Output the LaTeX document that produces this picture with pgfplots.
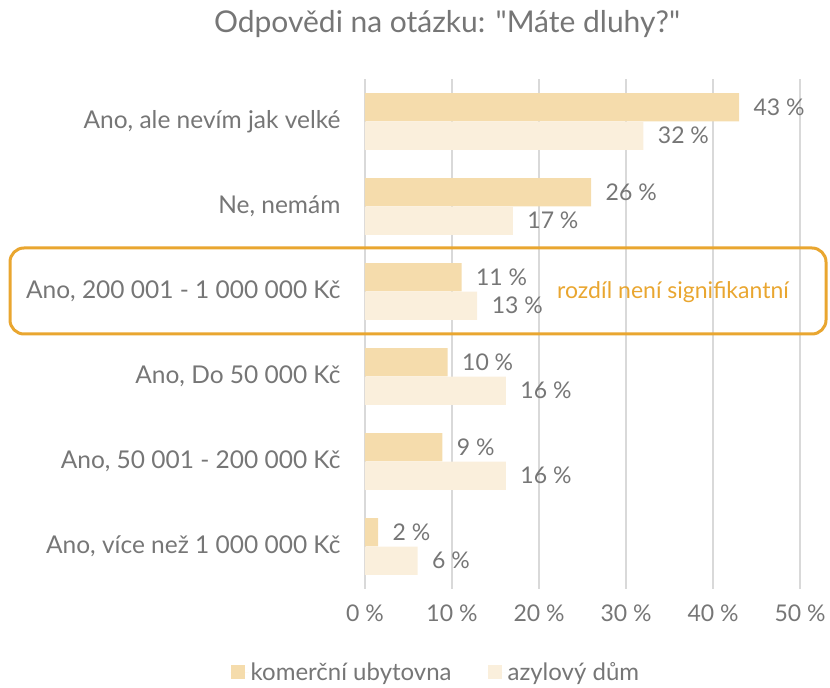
\documentclass[border=0pt]{standalone}
\usepackage{pgfplots}
\pgfplotsset{compat=1.18}
\usepackage{fontspec}
\setmainfont{Lato}[Ligatures=TeXOff]
\definecolor{barA}{RGB}{245,220,172}
\definecolor{barB}{RGB}{250,239,220}
\definecolor{txt}{RGB}{118,118,118}
\definecolor{gridc}{RGB}{217,217,217}
\definecolor{orng}{RGB}{233,166,48}
\begin{document}
\begin{tikzpicture}
\useasboundingbox (0,0) rectangle (830bp,688bp);
\begin{axis}[
  at={(365bp,99bp)}, anchor=south west,
  scale only axis, width=435bp, height=510bp,
  xmin=0, xmax=50, ymin=-0.5, ymax=5.5, y dir=reverse,
  xbar, bar width=28.3bp, bar shift=0pt,
  /pgf/number format/assume math mode=true,
  axis line style={draw=none}, major tick length=0pt,
  xmajorgrids, major grid style={gridc, line width=1.5bp},
  xtick={0,10,20,30,40,50},
  xticklabels={0~\%,10~\%,20~\%,30~\%,40~\%,50~\%},
  ytick={0,1,2,3,4,5},
  yticklabels={{Ano, ale nevím jak velké},{Ne, nemám},{Ano, 200 001 - 1 000 000 Kč},{Ano, Do 50 000 Kč},{Ano, 50 001 - 200 000 Kč},{Ano, více než 1 000 000 Kč}},
  ticklabel style={font=\fontsize{23bp}{27bp}\selectfont, text=txt},
  yticklabel style={anchor=east, xshift=-21bp, font=\fontsize{24.5bp}{28bp}\selectfont},
  xticklabel style={anchor=north, yshift=-12bp},
  point meta=explicit,
  nodes near coords={\pgfmathprintnumber{\pgfplotspointmeta}~\%},
  nodes near coords style={anchor=west, xshift=11bp, font=\fontsize{23bp}{27bp}\selectfont, text=txt},
  legend style={at={(0.163,-0.163)}, anchor=center, draw=none, fill=none,
    font=\fontsize{24bp}{28bp}\selectfont, text=txt, legend columns=2,
    /tikz/every even column/.append style={column sep=34bp}},
  legend image code/.code={\fill[#1] (0bp,-7bp) rectangle (14bp,7bp); \path (0bp,0bp) -- (18bp,0bp);},
]
\addplot[fill=barA, draw=none] coordinates {
  (43,-0.1667) [43] (26,0.8333) [26] (11.1,1.8333) [11]
  (9.5,2.8333) [10] (8.9,3.8333) [9] (1.5,4.8333) [2]};
\addlegendentry{komerční ubytovna}
\addplot[fill=barB, draw=none] coordinates {
  (32,0.1667) [32] (17,1.1667) [17] (12.9,2.1667) [13]
  (16.2,3.1667) [16] (16.2,4.1667) [16] (6.05,5.1667) [6]};
\addlegendentry{azylový dům}
\end{axis}
\node[anchor=base, text=txt, font=\fontsize{30bp}{34bp}\selectfont] at (447bp,655bp) {Odpovědi na otázku: "Máte dluhy?"};
\draw[orng, line width=3bp, rounded corners=14bp] (10bp,354bp) rectangle (826bp,440bp);
\node[anchor=west, inner sep=0pt, text=orng, font=\fontsize{23bp}{27bp}\selectfont] at (557bp,396bp) {rozdíl není signifikantní};
\end{tikzpicture}
\end{document}
